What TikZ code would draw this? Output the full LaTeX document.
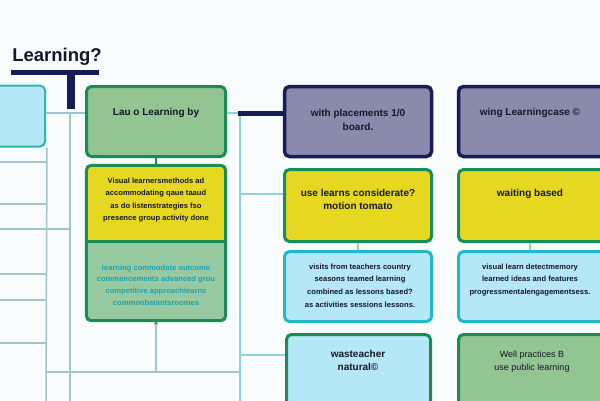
\documentclass[tikz,border=0pt]{standalone}
\usepackage{fontspec}
\setmainfont{Liberation Sans}
\usetikzlibrary{arrows.meta}
\definecolor{bg}{HTML}{F8FCFC}
\definecolor{ink}{HTML}{15172A}
\definecolor{navy}{HTML}{161C55}
\definecolor{lav}{HTML}{8A8AAC}
\definecolor{grnfill}{HTML}{92C592}
\definecolor{grnedge}{HTML}{1A8C58}
\definecolor{yel}{HTML}{E6D820}
\definecolor{lblue}{HTML}{B5E8F6}
\definecolor{cyanedge}{HTML}{22B8C8}
\definecolor{tealedge}{HTML}{2BB8AC}
\definecolor{tealtext}{HTML}{18A6B8}
\definecolor{lineg}{HTML}{A2C4CC}
\definecolor{linec}{HTML}{8CD2DA}
\begin{document}
\begin{tikzpicture}[x=1pt,y=-1pt,
  box/.style={rectangle, rounded corners=5pt, line width=3pt, inner sep=0pt},
  greenbox/.style={box, fill=grnfill, draw=grnedge},
  navybox/.style={box, fill=lav, draw=navy, line width=3.5pt},
  yelbox/.style={box, fill=yel, draw=grnedge},
  bluebox/.style={box, fill=lblue, draw=cyanedge},
  bluegbox/.style={box, fill=lblue, draw=grnedge},
  txt/.style={align=center, inner sep=0pt, text=ink, font=\fontsize{10}{13.5}\selectfont\bfseries},
  small/.style={txt, font=\fontsize{7.6}{12.6}\selectfont\bfseries},
  conn/.style={draw=lineg, line width=1.5pt},
  connc/.style={draw=linec, line width=1.5pt}]
\useasboundingbox (0,0) rectangle (600,400);
\clip (0,0) rectangle (600,400);
\fill[bg] (0,0) rectangle (600,400);

% title and T bar
\node[font=\fontsize{18.5}{20}\selectfont\bfseries, text=ink, inner sep=0pt] (title) at (57,57) {Learning?};
\fill[navy] (11,70) rectangle (99,75);
\fill[navy] (67,70) rectangle (75,109);

% junction coordinates
\coordinate (j1) at (240,113);
\coordinate (jc) at (240,194);
\coordinate (jg) at (240,355);
\coordinate (jb) at (240,372);
\coordinate (jl) at (46,372);
\coordinate (jm) at (156,372);
\coordinate (v46b) at (46,402);
\coordinate (v70t) at (70,113);
\coordinate (v70b) at (70,402);
\coordinate (v240b) at (240,402);

% left-side grid lines
\draw[conn] (v70t) -- (v70b);
\foreach \yy in {162,204,274,300,343} {
  \draw[conn] (-2,\yy) -- (46,\yy);
}
\draw[conn] (-2,229) -- (70,229);
\draw[conn] (jl) -- (jb);
\draw[connc] (j1) -- (v240b);

% boxes
\node[box, fill=lblue, draw=tealedge, line width=2pt, minimum width=60pt, minimum height=61pt] (l0) at (15,116) {};
\draw[conn] (l0.south east) ++(1,0) -- (v46b);
\node[greenbox, minimum width=139pt, minimum height=70pt] (g1) at (156,121.5) {};
\node[navybox, minimum width=147pt, minimum height=70pt] (n1) at (358,121.5) {};
\node[navybox, minimum width=153pt, minimum height=70pt] (n2) at (535,121.5) {};

% combined yellow/green box
\node[inner sep=0pt, minimum width=139pt, minimum height=75.5pt] (ya) at (156,203.25) {};
\node[inner sep=0pt, minimum width=139pt, minimum height=79.5pt] (gb) at (156,280.75) {};
\begin{scope}
  \clip[rounded corners=5pt] (ya.north west) rectangle (gb.south east);
  \fill[yel] (ya.north west) rectangle (ya.south east);
  \fill[grnfill!85!lblue] (gb.north west) rectangle (gb.south east);
\end{scope}
\draw[grnedge, line width=3pt, rounded corners=5pt] (ya.north west) rectangle (gb.south east);
\draw[grnedge, line width=3pt] (ya.south west) -- (ya.south east);

\node[yelbox, minimum width=147pt, minimum height=72pt] (yc) at (358,205.5) {};
\node[yelbox, minimum width=153pt, minimum height=72pt] (yd) at (535,205.5) {};
\node[bluebox, minimum width=147pt, minimum height=70pt] (e) at (358,286.5) {};
\node[bluebox, minimum width=153pt, minimum height=70pt] (f) at (535,286.5) {};
\node[bluegbox, minimum width=144pt, minimum height=75pt] (g) at (358.5,372) {};
\node[greenbox, minimum width=153pt, minimum height=75pt] (h) at (535,372) {};

% connectors
\draw[conn] (l0.east |- j1) -- (g1.west |- j1);
\draw[connc] (g1.east |- j1) -- (j1);
\draw[navy, line width=5pt] (238,113) -- (n1.west |- j1);
\draw[connc] (jc) -- (yc.west |- jc);
\draw[connc] (jg) -- (g.west |- jg);
\draw[grnedge, line width=1.5pt] (g1.south) -- (ya.north);
\draw[conn, -{Stealth[length=4pt,width=4pt,color=grnedge]}] (jm) -- (gb.south);
\draw[conn] (yc.south) -- (e.north);
\draw[conn] (yd.south -| 530,0) -- (f.north -| 530,0);

% texts
\node[txt] (tg1) at (156,113) {Lau o Learning by};
\node[txt] (tn1) at (358,120) {with placements 1/0\\board.};
\node[txt] (tn2) at (530,113) {wing Learningcase \textcopyright};
\node[small] (tya) at (156,200) {Visual learnersmethods ad\\accommodating qaue taaud\\as do listenstrategies fso\\presence group activity done};
\node[small, text=tealtext, font=\fontsize{7.6}{11.8}\selectfont\bfseries] (tgb) at (156,285) {learning commodate outcome\\commencements advanced grou\\competitive approachlearns\\commonbatantsroomes};
\node[txt] (tyc) at (358,199.5) {use learns considerate?\\motion tomato};
\node[txt] (tyd) at (530,194) {waiting based};
\node[small] (te) at (360,285.5) {visits from teachers country\\seasons teamed learning\\combined as lessons based?\\as activities sessions lessons.};
\node[small] (tf) at (530,280) {visual learn detectmemory\\learned ideas and features\\progressmentalengagementsess.};
\node[txt] (tg) at (358,360.5) {wasteacher\\natural\textcopyright};
\node[txt, font=\fontsize{9}{13}\selectfont] (th) at (532,361.5) {Well practices B\\use public learning};
\end{tikzpicture}
\end{document}
